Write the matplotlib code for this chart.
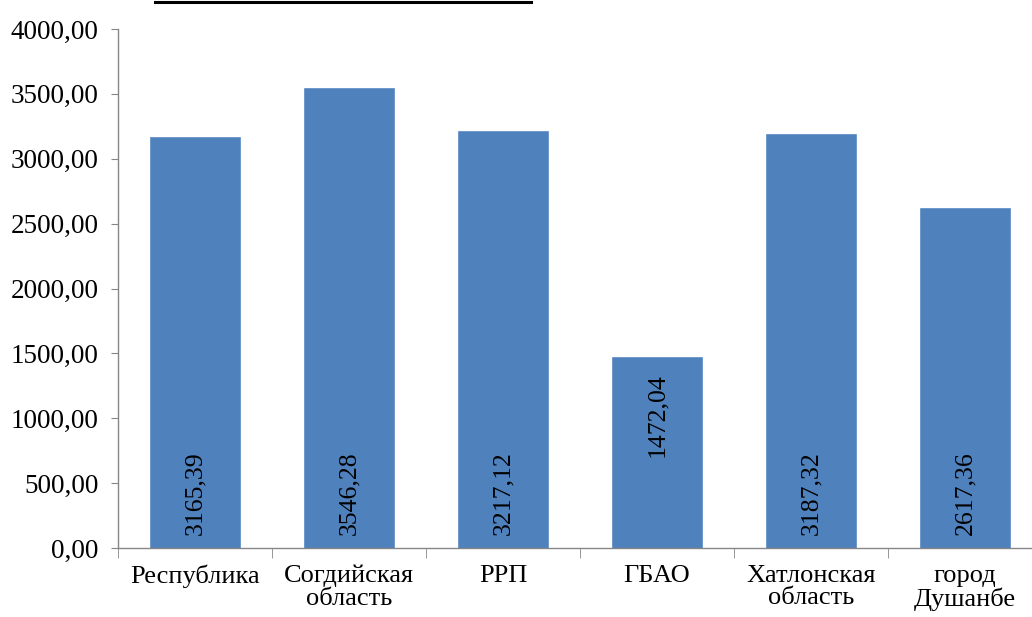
import matplotlib
matplotlib.use("Agg")
import matplotlib.pyplot as plt
from matplotlib.lines import Line2D

categories = ["Республика", "Согдийская\nобласть", "РРП", "ГБАО", "Хатлонская\nобласть", "город\nДушанбе"]
values = [3165.39, 3546.28, 3217.12, 1472.04, 3187.32, 2617.36]
label_texts = ["3165,39", "3546,28", "3217,12", "1472,04", "3187,32", "2617,36"]
yticks = [0, 500, 1000, 1500, 2000, 2500, 3000, 3500, 4000]

plt.rcParams['font.family'] = ['Liberation Serif', 'DejaVu Serif']

fig = plt.figure(figsize=(10.32, 6.17), dpi=100)
ax = fig.add_axes([118/1032, 69/617, 924/1032, 519/617])

x = list(range(len(values)))
ax.bar(x, values, width=0.59, color='#4F81BD', edgecolor='#5A8AC6', linewidth=0.5)

for i, (v, t) in enumerate(zip(values, label_texts)):
    ypos = 100 if v > 2000 else 700
    ax.text(i, ypos, t, rotation=90, ha='center', va='bottom', fontsize=18.5, color='black')

ax.set_xlim(-0.5, len(values) - 0.5)
ax.set_ylim(0, 4000)
ax.set_yticks(yticks)
ax.set_yticklabels([f"{t:.2f}".replace('.', ',') for t in yticks], fontsize=19.5)
ax.set_xticks(x)
ax.set_xticklabels(categories, fontsize=19, linespacing=1.02)
ax.set_xticks([i - 0.5 for i in range(len(values) + 1)], minor=True)
ax.tick_params(axis='x', which='major', length=0, pad=12)
ax.tick_params(axis='x', which='minor', length=7, color='#868686', direction='out')
ax.tick_params(axis='y', length=5, color='#868686', direction='out', pad=9)

for s in ['top', 'right']:
    ax.spines[s].set_visible(False)
for s in ['left', 'bottom']:
    ax.spines[s].set_color('#868686')
    ax.spines[s].set_linewidth(1.0)

fig.add_artist(Line2D([155/1032, 531/1032], [1 - 2/617, 1 - 2/617], color='black', linewidth=2.2))

fig.savefig('out.png', dpi=100)
